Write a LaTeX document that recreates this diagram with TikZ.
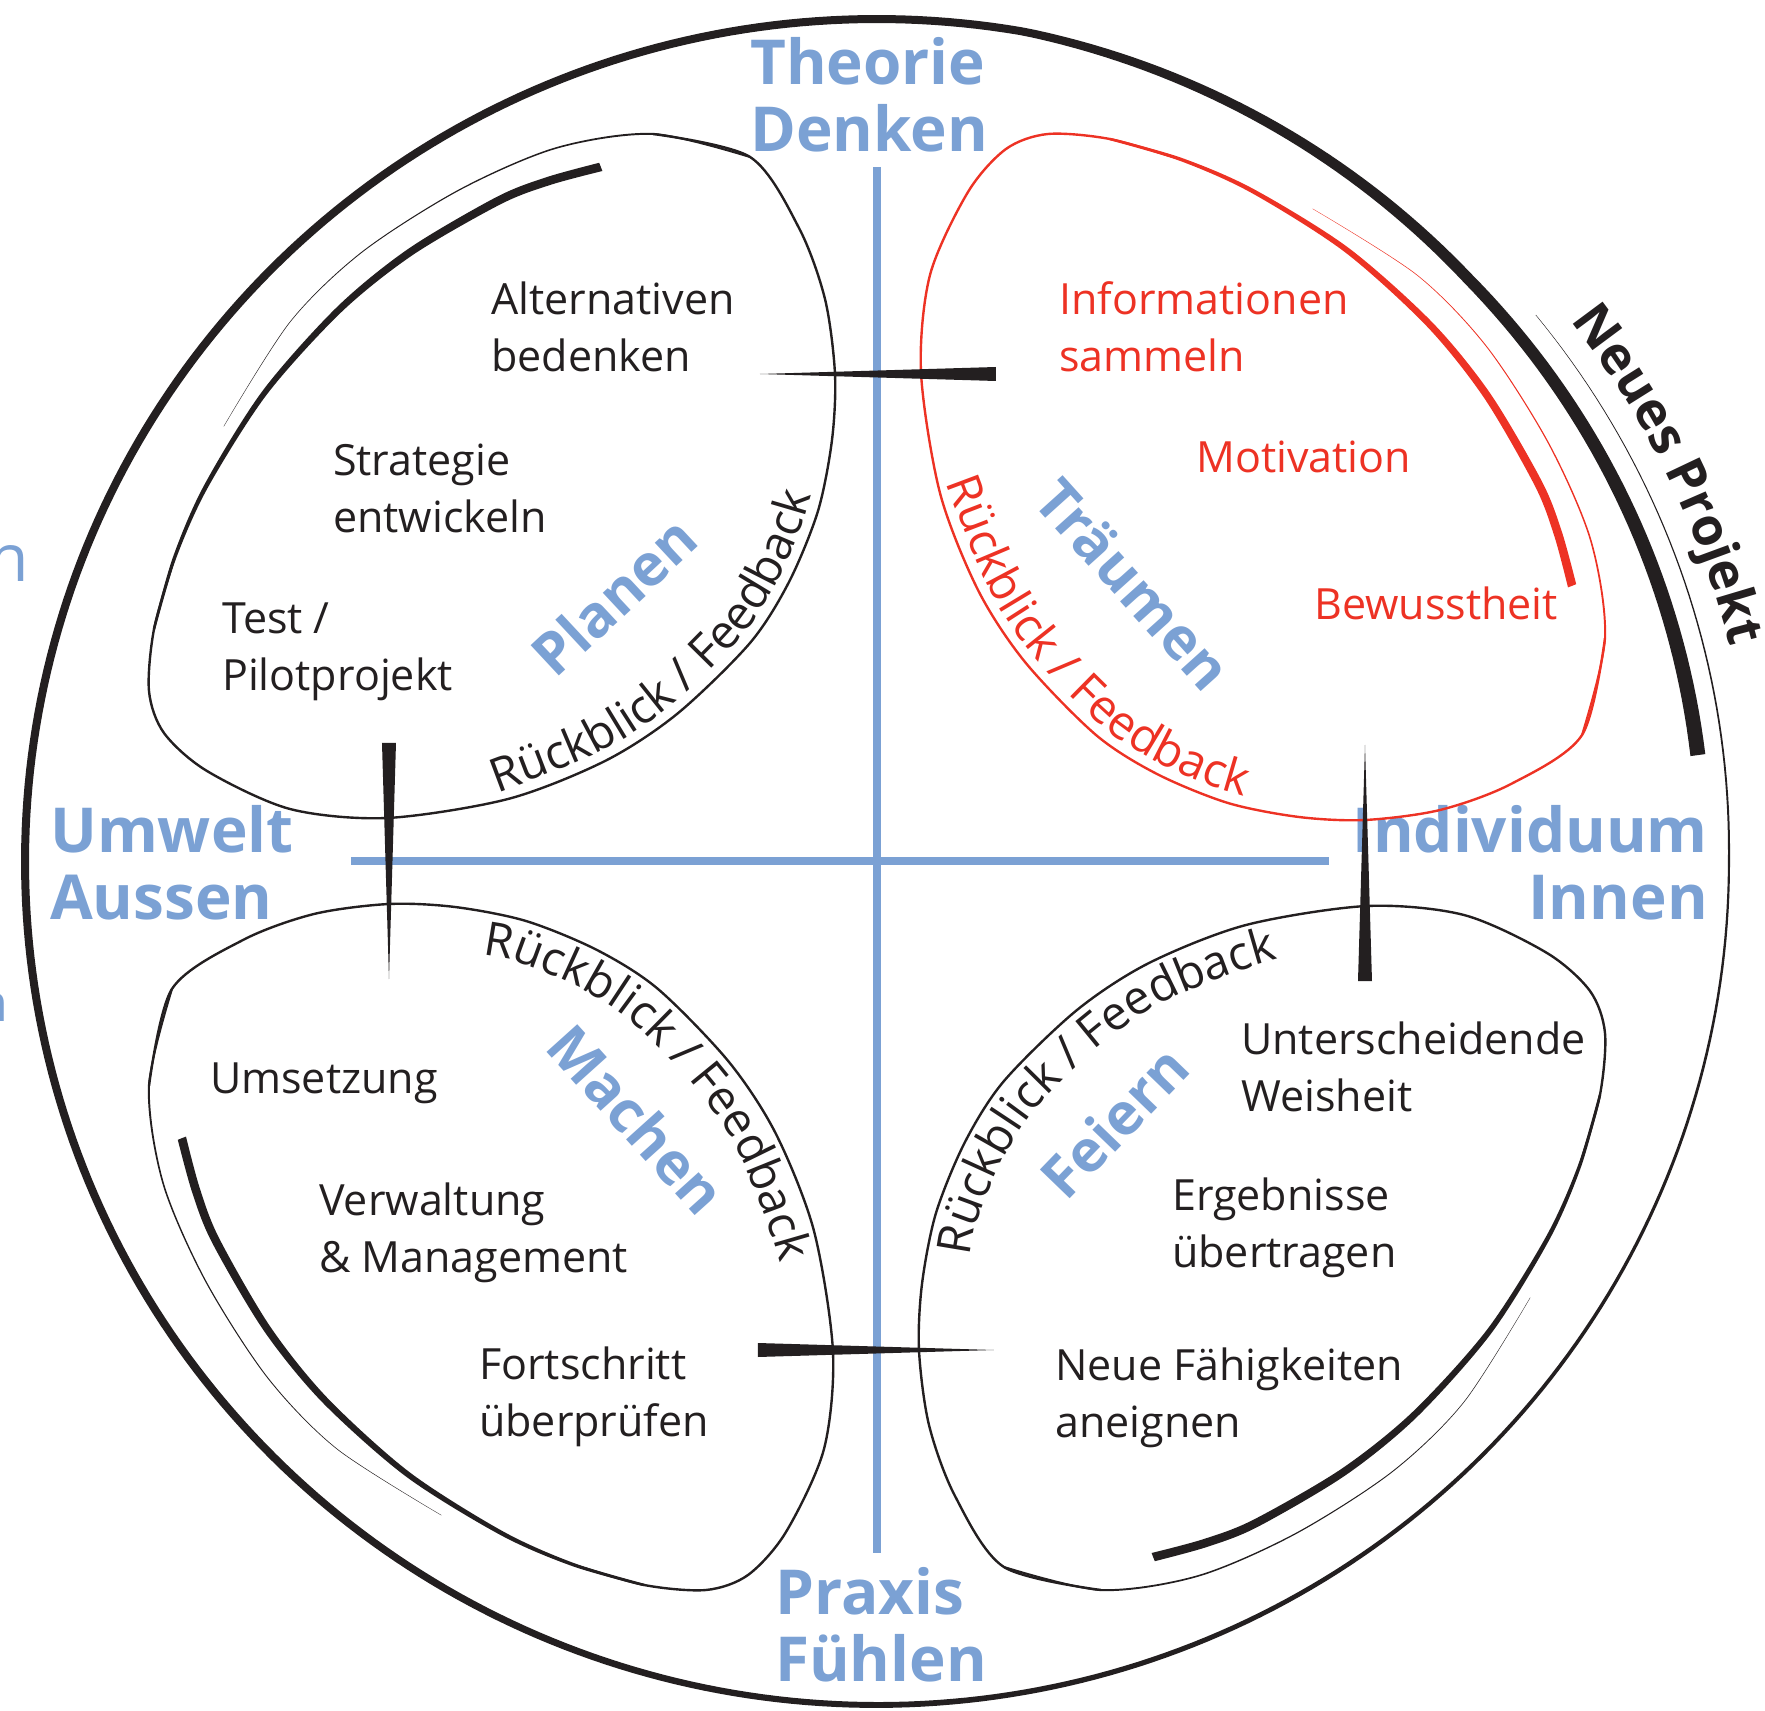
\documentclass[tikz,border=0pt]{standalone}
\usepackage{fontspec}
\setmainfont{Open Sans}
\usepackage{tikz}
\usetikzlibrary{decorations.text}
\definecolor{ink}{RGB}{35,31,32}
\definecolor{axisblue}{RGB}{123,161,212}
\definecolor{dream}{RGB}{237,50,36}
\newcommand{\fbfont}{\fontsize{47}{56}\selectfont}

\begin{document}
\begin{tikzpicture}[x=1pt, y=1pt,
		axisline/.style={axisblue, line width=8},
		pole/.style={text=axisblue, font=\fontsize{62}{67}\selectfont\bfseries, inner sep=0},
		phase/.style={text=axisblue, font=\fontsize{58}{64}\selectfont\bfseries, inner sep=0},
		item/.style={text=ink, font=\fontsize{43}{57}\selectfont, inner sep=0, align=left, anchor=base west},
		loopline/.style={line width=2.4},
		declare function={
			ringoff(\s)=(\s<40)*8*(1-\s/40)-(\s>320)*min(\s-320,35)/35*17-(\s>355)*(\s-355)/37.5*7;
			ringw(\s)=0.4+7.6*min(\s/180,1)+max(\s-320,0)/72.5*7;
		}]
				\useasboundingbox (-877,-849) rectangle (888,862);
				\draw[axisline] (0,695) -- (0,-691);
				\draw[axisline] (-526,1) -- (452,1);
				\node[pole, align=left, anchor=base west] (theory) at (-127,710) {Theorie\\Denken};
				\node[pole, align=left, anchor=base west] (practice) at (-102,-819) {Praxis\\Fühlen};
				\node[pole, align=left, anchor=base west] (world) at (-827,-57) {Umwelt\\Aussen};
				\node[pole, align=right, anchor=base east] (self) at (831,-57) {Individuum\\Innen};
				\fill[ink] plot[domain=0:392.5, samples=400, variable=\t]
					({(852+ringoff(\t)+ringw(\t)/2)*cos(40-\t)}, {(843+ringoff(\t)+ringw(\t)/2)*sin(40-\t)})
					-- plot[domain=392.5:0, samples=400, variable=\t]
					({(852+ringoff(\t)-ringw(\t)/2)*cos(40-\t)}, {(843+ringoff(\t)-ringw(\t)/2)*sin(40-\t)}) -- cycle;
				\foreach \rot/\col/\flip in {0/ink/0, -90/dream/0, 180/ink/1, 90/ink/1} {
					\begin{scope}[rotate=\rot]
						\fill[\col] plot[smooth] coordinates {(146.3:785.35) (137.4:797.9) (130.2:798.75) (121.9:792) (114.2:783.6) (107.1:762.75) (100.2:717.45)}
							-- plot[smooth] coordinates {(100.2:715.15) (107.1:760.65) (114.2:782) (121.9:790.8) (130.2:797.85) (137.4:797.3) (146.3:785.05)} -- cycle;
						\draw[\col, loopline] plot[smooth] coordinates {(107.1:761.7) (100.2:716.3) (-78,634) (-52,563) (-42,488) (-45,422) (-59,351) (-88,280) (-127,219) (-200,148) (-272,101) (-369,63) (-490,44) (-587,53) (-670,91) (-713,129) (-728,171) (162.14:759.6) (156.64:765.5)};
						\fill[\col] plot[smooth] coordinates {(162.14:760.85) (156.64:767.2) (150.83:771.2) (142.54:774.3) (134.22:774.35) (127.38:771.8) (119.74:766.15) (115.7:760.3) (111.67:752.4)}
							-- plot[smooth] coordinates {(111.67:743.6) (115.7:751.7) (119.74:757.85) (127.38:764.2) (134.22:767.65) (142.54:768.7) (150.83:766.8) (156.64:763.8) (162.14:758.35)} -- cycle;
						\ifnum\flip=0
							\path[decorate, decoration={text along path, text color=\col, text={|\fbfont|Rückblick / Feedback}}]
								plot[smooth] coordinates {(-380,69) (-277,110) (-206,156) (-135,226) (-97,285) (-69,354) (-55,424) (-52,488) (-55,560)};
						\else
							\path[decorate, decoration={text along path, text color=\col, text={|\fbfont|Rückblick / Feedback}}]
								plot[smooth] coordinates {(-93,395) (-99,363) (-125,299) (-159,246) (-226,181) (-291,138) (-384,102) (-450,88) (-520,82)};
						\fi
					\end{scope}
				}
				\foreach \rot in {0,-90,180,90}
					\fill[ink, rotate=\rot] (-117,488) -- (119,495) -- (119,481) -- cycle;
				\node[item] (alt) at (-386,490) {Alternativen\\bedenken};
				\node[item] (strat) at (-544,329) {Strategie\\entwickeln};
				\node[item] (test) at (-655,171) {Test /\\Pilotprojekt};
				\node[item, text=dream] (info) at (182,490) {Informationen\\sammeln};
				\node[item, text=dream] (motiv) at (319,389) {Motivation};
				\node[item, text=dream] (aware) at (437,242) {Bewusstheit};
				\node[item] (impl) at (-667,-231) {Umsetzung};
				\node[item] (admin) at (-558,-410) {Verwaltung\\\& Management};
				\node[item] (check) at (-398,-574) {Fortschritt\\überprüfen};
				\node[item] (wisdom) at (364,-249) {Unterscheidende\\Weisheit};
				\node[item] (transfer) at (295,-405) {Ergebnisse\\übertragen};
				\node[item] (skills) at (178,-575) {Neue Fähigkeiten\\aneignen};
				\node[phase, rotate=43] (plan) at (-263,266) {Planen};
				\node[phase, rotate=-48] (dreaming) at (257,278) {Träumen};
				\node[phase, rotate=-48] (make) at (-240,-257) {Machen};
				\node[phase, rotate=46] (party) at (237,-260) {Feiern};
				\path[decorate, decoration={text along path, text color=ink, text={|\fontsize{52}{60}\selectfont\bfseries|Neues Projekt}}]
					(38:880) arc[start angle=38, end angle=0, radius=880];
				\node[text=axisblue, font=\fontsize{66}{70}\selectfont, inner sep=0, anchor=base west] (cutA) at (-889,280) {n};
				\node[text=axisblue, font=\fontsize{52}{56}\selectfont, inner sep=0, anchor=base west] (cutB) at (-901,-159) {n};
			\end{tikzpicture}
\end{document}
